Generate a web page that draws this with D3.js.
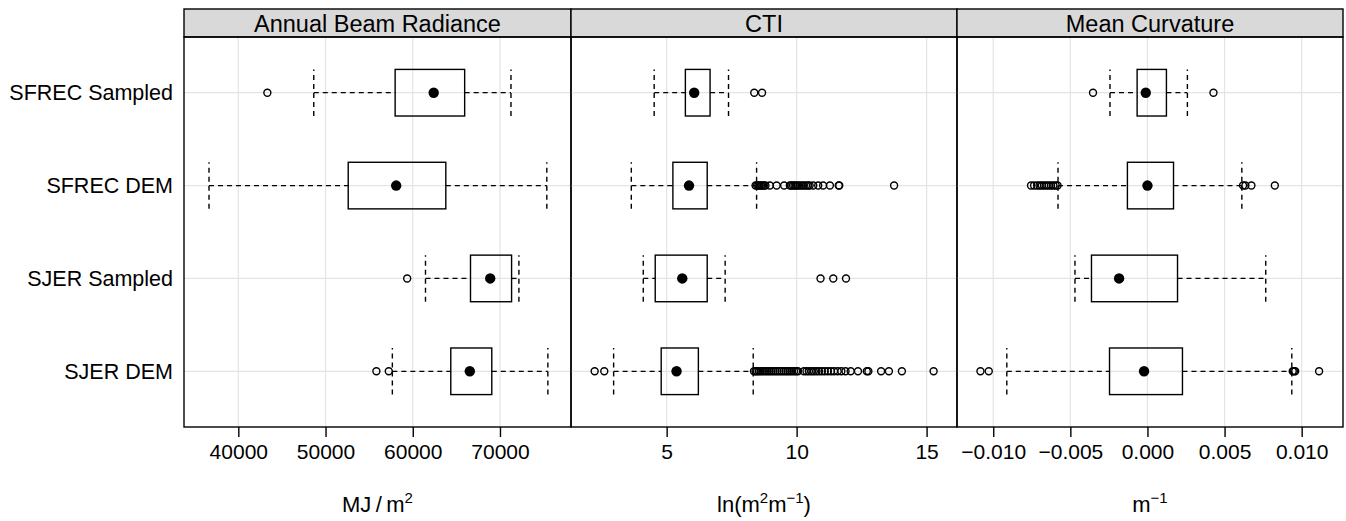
<!DOCTYPE html>
<html>
<head>
<meta charset="utf-8">
<script src="https://cdn.jsdelivr.net/npm/d3@7"></script>
<style>
  body { margin: 0; background: #fff; }
  text { font-family: "Liberation Sans", Arial, Helvetica, sans-serif; fill: #000; }
</style>
</head>
<body>
<svg id="chart" width="1346" height="521"></svg>
<script>
// rows, top to bottom
var categories = ["SFREC Sampled", "SFREC DEM", "SJER Sampled", "SJER DEM"];
var panels = ["Annual Beam Radiance", "CTI", "Mean Curvature"];

// [lower whisker, q1, median, q3, upper whisker] per row
var beamStats = [
  [48650, 57980, 62400, 65950, 71260],
  [36640, 52600, 58100, 63790, 75370],
  [61460, 66620, 68880, 71330, 72170],
  [57660, 64360, 66540, 69060, 75490]
];
var beamOutliers = [[43330], [], [59360], [55830, 57250]];
var beamTicks = [40000, 50000, 60000, 70000];

var ctiStats = [
  [4.52, 5.72, 6.06, 6.67, 7.38],
  [3.64, 5.24, 5.86, 6.56, 8.46],
  [4.10, 4.56, 5.60, 6.56, 7.25],
  [2.96, 4.79, 5.38, 6.22, 8.33]
];
var ctiOutliers = [
  [8.37, 8.67],
  [8.42, 8.48, 8.53, 8.58, 8.63, 8.68, 8.74, 8.80, 8.97, 9.23, 9.52, 9.74, 9.80, 9.86,
   9.92, 9.98, 10.05, 10.12, 10.20, 10.28, 10.36, 10.44, 10.50, 10.64, 10.83, 11.02,
   11.28, 11.62, 11.64, 13.75],
  [10.92, 11.41, 11.90],
  [2.23, 2.60, 8.36, 8.42, 8.48, 8.55, 8.62, 8.70, 8.78, 8.86, 8.94, 9.02, 9.10, 9.18,
   9.26, 9.34, 9.42, 9.50, 9.58, 9.66, 9.74, 9.82, 9.90, 9.98, 10.05, 10.28, 10.38,
   10.47, 10.57, 10.66, 10.76, 10.86, 10.97, 11.08, 11.20, 11.32, 11.44, 11.58, 11.72,
   11.88, 12.08, 12.36, 12.70, 12.76, 13.25, 13.55, 14.05, 15.27]
];
var ctiTicks = [5, 10, 15];

var curvStats = [
  [-0.00243, -0.00067, -0.00011, 0.00123, 0.00259],
  [-0.00580, -0.00130, 0.00000, 0.00169, 0.00612],
  [-0.00470, -0.00363, -0.00184, 0.00195, 0.00767],
  [-0.00912, -0.00246, -0.00022, 0.00227, 0.00936]
];
var curvOutliers = [
  [-0.00353, 0.00428],
  [-0.00755, -0.00735, -0.00715, -0.00700, -0.00685, -0.00670, -0.00655, -0.00640,
   -0.00625, -0.00610, -0.00595, -0.00583, 0.00620, 0.00635, 0.00674, 0.00826],
  [],
  [-0.01083, -0.01029, 0.00942, 0.00950, 0.00958, 0.01113]
];
var curvTicks = [-0.010, -0.005, 0.000, 0.005, 0.010];

var svg = d3.select("#chart");
var stripTop = 9, panelTop = 37, panelBottom = 427;
var edges = [184, 571, 957, 1343];

var y = d3.scalePoint().domain(categories).range([panelTop, panelBottom]).padding(0.6);

var specs = [
  {stats: beamStats, out: beamOutliers, ticks: beamTicks, domain: [33773, 78142], fmt: d3.format("d")},
  {stats: ctiStats, out: ctiOutliers, ticks: ctiTicks, domain: [1.32, 16.17], fmt: d3.format("d")},
  {stats: curvStats, out: curvOutliers, ticks: curvTicks, domain: [-0.01235, 0.01268], fmt: d3.format(".3f")}
];

var boxH = 23.3;

specs.forEach(function(s, i) {
  var x0 = edges[i], x1 = edges[i + 1];
  var x = d3.scaleLinear().domain(s.domain).range([x0, x1]);
  var g = svg.append("g");

  // grid
  g.selectAll(".vg").data(s.ticks).enter().append("line")
    .attr("x1", function(d) { return x(d); }).attr("x2", function(d) { return x(d); })
    .attr("y1", panelTop).attr("y2", panelBottom)
    .attr("stroke", "#e4e4e4").attr("stroke-width", 1.2);
  g.selectAll(".hg").data(categories).enter().append("line")
    .attr("x1", x0).attr("x2", x1)
    .attr("y1", function(d) { return y(d); }).attr("y2", function(d) { return y(d); })
    .attr("stroke", "#e4e4e4").attr("stroke-width", 1.2);

  // boxes
  s.stats.forEach(function(st, j) {
    var cy = y(categories[j]);
    var b = g.append("g");
    b.append("line").attr("x1", x(st[0])).attr("x2", x(st[1])).attr("y1", cy).attr("y2", cy)
      .attr("stroke", "#000").attr("stroke-width", 1.3).attr("stroke-dasharray", "5,4");
    b.append("line").attr("x1", x(st[3])).attr("x2", x(st[4])).attr("y1", cy).attr("y2", cy)
      .attr("stroke", "#000").attr("stroke-width", 1.3).attr("stroke-dasharray", "5,4");
    [st[0], st[4]].forEach(function(v) {
      b.append("line").attr("x1", x(v)).attr("x2", x(v))
        .attr("y1", cy + boxH).attr("y2", cy - boxH)
        .attr("stroke", "#000").attr("stroke-width", 1.4).attr("stroke-dasharray", "5,4");
    });
    b.append("rect").attr("x", x(st[1])).attr("y", cy - boxH)
      .attr("width", x(st[3]) - x(st[1])).attr("height", 2 * boxH)
      .attr("fill", "none").attr("stroke", "#000").attr("stroke-width", 1.4);
    b.selectAll(".o").data(s.out[j]).enter().append("circle")
      .attr("cx", function(d) { return x(d); }).attr("cy", cy).attr("r", 3.5)
      .attr("fill", "none").attr("stroke", "#000").attr("stroke-width", 1.4);
    b.append("circle").attr("cx", x(st[2])).attr("cy", cy).attr("r", 5.2)
      .attr("fill", "#000");
  });

  // strip
  g.append("rect").attr("x", x0).attr("y", stripTop).attr("width", x1 - x0).attr("height", panelTop - stripTop)
    .attr("fill", "#d9d9d9").attr("stroke", "#000").attr("stroke-width", 1.4);
  g.append("text").attr("x", (x0 + x1) / 2).attr("y", 31.5).attr("text-anchor", "middle")
    .attr("font-size", 23.5).text(panels[i]);

  // frame
  g.append("rect").attr("x", x0).attr("y", panelTop).attr("width", x1 - x0).attr("height", panelBottom - panelTop)
    .attr("fill", "none").attr("stroke", "#000").attr("stroke-width", 1.4);

  // bottom axis
  var ax = g.append("g").attr("transform", "translate(0," + panelBottom + ")")
    .call(d3.axisBottom(x).tickValues(s.ticks).tickFormat(s.fmt).tickSize(10).tickPadding(7));
  ax.select(".domain").remove();
  ax.selectAll(".tick line").attr("stroke", "#000").attr("stroke-width", 1.4);
  ax.selectAll(".tick text").attr("font-size", 21).attr("font-family", "Liberation Sans, Arial, sans-serif");
});

// row labels
svg.selectAll(".rowlab").data(categories).enter().append("text")
  .attr("x", 173).attr("y", function(d) { return y(d); }).attr("dy", "0.36em")
  .attr("text-anchor", "end").attr("font-size", 21.5).text(function(d) { return d; });

// axis titles
var t1 = svg.append("text").attr("x", (edges[0] + edges[1]) / 2).attr("y", 512)
  .attr("text-anchor", "middle").attr("font-size", 22);
t1.append("tspan").text("MJ\u2009/\u2009m");
t1.append("tspan").attr("font-size", 15).attr("dy", -9).text("2");

var t2 = svg.append("text").attr("x", (edges[1] + edges[2]) / 2).attr("y", 512)
  .attr("text-anchor", "middle").attr("font-size", 22);
t2.append("tspan").text("ln(m");
t2.append("tspan").attr("font-size", 15).attr("dy", -9).text("2");
t2.append("tspan").attr("dy", 9).text("m");
t2.append("tspan").attr("font-size", 15).attr("dy", -9).text("\u22121");
t2.append("tspan").attr("dy", 9).text(")");

var t3 = svg.append("text").attr("x", (edges[2] + edges[3]) / 2).attr("y", 512)
  .attr("text-anchor", "middle").attr("font-size", 22);
t3.append("tspan").text("m");
t3.append("tspan").attr("font-size", 15).attr("dy", -9).text("\u22121");
</script>
</body>
</html>
